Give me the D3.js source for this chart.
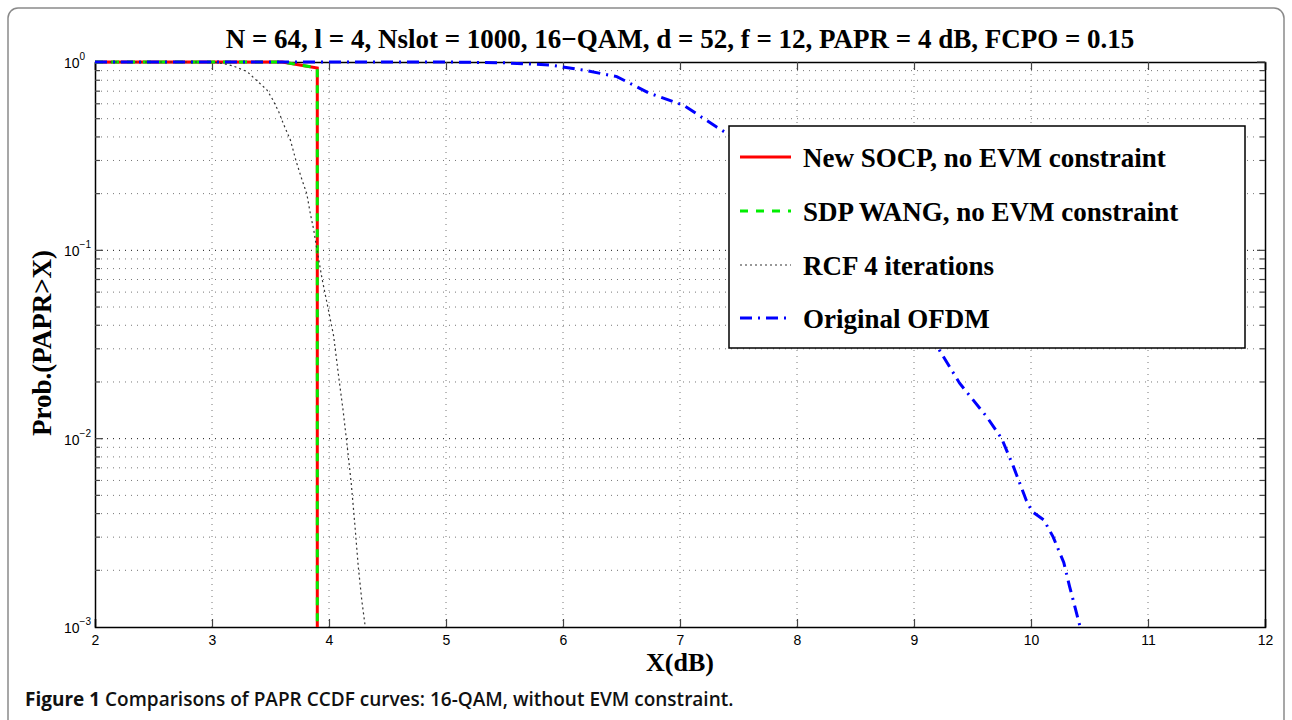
<!DOCTYPE html>
<html><head><meta charset="utf-8">
<script src="https://cdn.jsdelivr.net/npm/d3@7"></script>
<style>body{margin:0;background:#fff}</style>
</head><body>
<script>
const titleText = "N = 64, l = 4, Nslot = 1000, 16\u2212QAM, d = 52, f = 12, PAPR = 4 dB, FCPO = 0.15";
const xTicks = [2,3,4,5,6,7,8,9,10,11,12];
const yTicks = [1e-3,1e-2,1e-1,1];
const yTickExp = ["\u22123","\u22122","\u22121","0"];
const seriesNames = ["New SOCP, no EVM constraint","SDP WANG, no EVM constraint","RCF 4 iterations","Original OFDM"];
const socpX = [2, 3.6, 3.9, 3.9];
const socpY = [1, 1, 0.93, 0.001];
const sdpX = [2, 3.6, 3.9, 3.9];
const sdpY = [1, 1, 0.93, 0.001];
const rcfX = [2, 3.0, 3.1, 3.18, 3.30, 3.38, 3.47, 3.52, 3.57, 3.61, 3.67, 3.72, 3.77, 3.81, 3.84, 3.87, 3.89, 3.94, 3.99, 4.04, 4.08, 4.12, 4.15, 4.19, 4.22, 4.25, 4.28, 4.31];
const rcfY = [1, 1, 0.98, 0.953, 0.889, 0.80, 0.71, 0.63, 0.545, 0.47, 0.385, 0.296, 0.236, 0.20, 0.157, 0.128, 0.107, 0.071, 0.050, 0.035, 0.022, 0.0142, 0.0098, 0.0058, 0.00355, 0.0021, 0.00139, 0.001];
const ofdmX = [2, 5.0, 5.5, 5.89, 6.17, 6.46, 6.74, 7.03, 7.31, 7.40, 7.8, 8.2, 8.6, 9.0, 9.21, 9.39, 9.62, 9.75, 9.85, 9.96, 10.01, 10.11, 10.19, 10.28, 10.33, 10.42];
const ofdmY = [1, 1, 0.99, 0.964, 0.907, 0.836, 0.682, 0.59, 0.453, 0.418, 0.30, 0.18, 0.10, 0.048, 0.030, 0.0197, 0.0131, 0.010, 0.0071, 0.0047, 0.0041, 0.0037, 0.0030, 0.0022, 0.00164, 0.001];
const caption = ["Figure 1", " Comparisons of PAPR CCDF curves: 16-QAM, without EVM constraint."];

const W = 1292, H = 720;
const svg = d3.select("body").append("svg").attr("width", W).attr("height", H);
const L = 95, R = 1265, T = 62, B = 627;
const x = d3.scaleLinear().domain([2, 12]).range([L, R]);
const y = d3.scaleLog().domain([1e-3, 1]).range([B, T]);
const serif = "Liberation Serif, Times New Roman, serif";
const sans = "Liberation Sans, Arial, sans-serif";

// frame
svg.append("rect").attr("x", 8).attr("y", 8).attr("width", 1276).attr("height", 740)
  .attr("rx", 10).attr("fill", "none").attr("stroke", "#8a8a8a").attr("stroke-width", 1.5);

// grid
const g = svg.append("g");
const minor = [];
for (let e = -3; e < 0; e++) for (let k = 1; k <= 9; k++) minor.push(k * Math.pow(10, e));
const isMajor = v => Math.abs(Math.log10(v) - Math.round(Math.log10(v))) < 1e-9;
minor.forEach(v => {
  if (v <= 1e-3) return;
  const major = isMajor(v);
  g.append("line").attr("x1", L).attr("x2", R).attr("y1", y(v)).attr("y2", y(v))
    .attr("stroke", major ? "#111" : "#777").attr("stroke-width", 1).attr("stroke-dasharray", "1,5");
});
xTicks.slice(1, -1).forEach(v => {
  g.append("line").attr("x1", x(v)).attr("x2", x(v)).attr("y1", T).attr("y2", B)
    .attr("stroke", "#777").attr("stroke-width", 1).attr("stroke-dasharray", "1,5");
});

// axes
const ax = svg.append("g").attr("font-family", sans).attr("font-size", 14);
const xb = d3.axisBottom(x).tickValues(xTicks).tickSize(-8).tickPadding(8).tickFormat(d3.format("d"));
const xt = d3.axisTop(x).tickValues(xTicks).tickSize(-8).tickFormat("");
const yl = d3.axisLeft(y).tickValues([]).tickSize(0).tickFormat("");
const yr = d3.axisRight(y).tickValues([]).tickSize(0).tickFormat("");
[[xb, `translate(0,${B})`], [xt, `translate(0,${T})`], [yl, `translate(${L},0)`], [yr, `translate(${R},0)`]].forEach(([a, tr]) => {
  const gg = ax.append("g").attr("transform", tr).call(a);
  gg.select(".domain").attr("stroke", "#000").attr("stroke-width", 1.5);
  gg.selectAll(".tick line").attr("stroke", "#444").attr("stroke-width", 1.2);
  gg.selectAll(".tick text").attr("fill", "#000").attr("font-size", 14).attr("font-family", sans);
});
// y ticks (major longer, minor shorter), inward on both sides
ax.selectAll("g.ytk").data(minor.concat([1]).filter(v => v > 1e-3)).enter().append("g").each(function (v) {
  const len = isMajor(v) ? 8 : 5;
  d3.select(this).append("line").attr("x1", L).attr("x2", L + len).attr("y1", y(v)).attr("y2", y(v)).attr("stroke", "#444").attr("stroke-width", 1.2);
  d3.select(this).append("line").attr("x1", R).attr("x2", R - len).attr("y1", y(v)).attr("y2", y(v)).attr("stroke", "#444").attr("stroke-width", 1.2);
});
// y tick labels
yTicks.forEach((v, i) => {
  const t = ax.append("text").attr("x", 64).attr("y", y(v) + 6).attr("font-size", 14).attr("fill", "#000");
  t.append("tspan").text("10");
  t.append("tspan").attr("dy", -8).attr("font-size", 10).text(yTickExp[i]);
});

// series
const line = d3.line().x(d => x(d[0])).y(d => y(d[1]));
const zip = (a, b) => a.map((v, i) => [v, b[i]]);
const series = [
  {xs: socpX, ys: socpY, color: "#ff0000", w: 3, dash: null},
  {xs: sdpX, ys: sdpY, color: "#00ee00", w: 3, dash: "8,8"},
  {xs: rcfX, ys: rcfY, color: "#333", w: 1.2, dash: "2,3"},
  {xs: ofdmX, ys: ofdmY, color: "#0000ff", w: 3, dash: "12,6,2,6"}
];
series.forEach(s => {
  svg.append("path").attr("d", line(zip(s.xs, s.ys))).attr("fill", "none")
    .attr("stroke", s.color).attr("stroke-width", s.w).attr("stroke-dasharray", s.dash);
});

// legend
const lg = svg.append("g");
lg.append("rect").attr("x", 729).attr("y", 126).attr("width", 516).attr("height", 222)
  .attr("fill", "#fff").attr("stroke", "#000").attr("stroke-width", 1.5);
const ly = [157, 211, 265, 318];
series.forEach((s, i) => {
  lg.append("line").attr("x1", 740).attr("x2", 791).attr("y1", ly[i]).attr("y2", ly[i])
    .attr("stroke", s.color).attr("stroke-width", s.w).attr("stroke-dasharray", s.dash);
  lg.append("text").attr("x", 803).attr("y", ly[i] + 10).text(seriesNames[i])
    .attr("font-family", serif).attr("font-weight", "bold").attr("font-size", 27);
});

// title and labels
svg.append("text").attr("x", 680).attr("y", 48).attr("text-anchor", "middle").text(titleText)
  .attr("font-family", serif).attr("font-weight", "bold").attr("font-size", 27);
svg.append("text").attr("x", 680).attr("y", 671).attr("text-anchor", "middle").text("X(dB)")
  .attr("font-family", serif).attr("font-weight", "bold").attr("font-size", 26);
svg.append("text").attr("transform", "translate(51,343) rotate(-90)").attr("text-anchor", "middle").text("Prob.(PAPR>X)")
  .attr("font-family", serif).attr("font-weight", "bold").attr("font-size", 27);

// caption
const cap = svg.append("text").attr("x", 25).attr("y", 706).attr("font-family", "Open Sans, Noto Sans, sans-serif").attr("font-size", 19).attr("fill", "#111");
cap.append("tspan").attr("font-weight", "bold").text(caption[0]);
cap.append("tspan").attr("font-weight", "600").text(caption[1]);
</script>
</body></html>
